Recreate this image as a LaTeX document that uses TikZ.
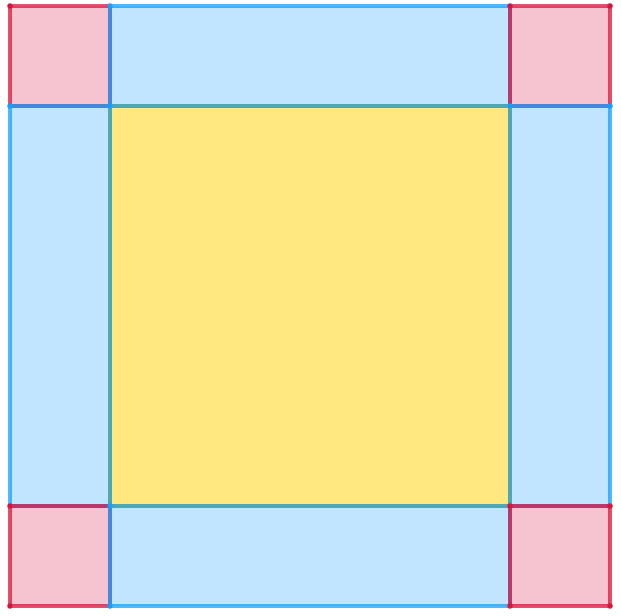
\documentclass[tikz,border=0pt]{standalone}
\begin{document}
\begin{tikzpicture}[
    line width=1.2pt, line join=round
]

% Colours of the three kinds of pieces
\definecolor{cornerfill}{RGB}{245,196,208}
\definecolor{cornerline}{RGB}{220,20,60}
\definecolor{sidefill}{RGB}{194,229,255}
\definecolor{sideline}{RGB}{21,160,255}
\definecolor{midfill}{RGB}{255,232,128}
\definecolor{midline}{RGB}{78,168,180}

% Sizes: small side a, big side b
\def\sa{1}
\def\sb{4}

\useasboundingbox (-0.10,-0.09) rectangle (6.11,6.06);

% Fills: centre b x b, corners a x a, sides a x b
\fill[midfill] (1,1) rectangle (5,5);
\foreach \x/\y in {0/0, 5/0, 0/5, 5/5} {
    \fill[cornerfill] (\x, \y) rectangle +(\sa, \sa);
}
\fill[sidefill] (1, 5) rectangle +(\sb, \sa);
\fill[sidefill] (1, 0) rectangle +(\sb, \sa);
\fill[sidefill] (0, 1) rectangle +(\sa, \sb);
\fill[sidefill] (5, 1) rectangle +(\sa, \sb);

% Outlines, in drawing order (later ones lie on top)
\draw[cornerline, draw opacity=0.75] (0, 5) rectangle +(\sa, \sa);
\draw[sideline, draw opacity=0.75] (1, 5) rectangle +(\sb, \sa);
\draw[cornerline, draw opacity=0.75] (5, 5) rectangle +(\sa, \sa);
\draw[sideline, draw opacity=0.75] (0, 1) rectangle +(\sa, \sb);
\draw[cornerline, draw opacity=0.75] (0, 0) rectangle +(\sa, \sa);
\draw[sideline, draw opacity=0.75] (1, 0) rectangle +(\sb, \sa);
\draw[sideline, draw opacity=0.75] (5, 1) rectangle +(\sa, \sb);
\draw[cornerline, draw opacity=0.75] (5, 0) rectangle +(\sa, \sa);
\draw[midline] (1,1) rectangle (5,5);

% Vertex points
\foreach \p in {(0,0), (0,1), (0,6), (5,6), (6,6), (5,1), (6,1), (5,0), (6,0)} {
    \fill[cornerline] \p circle (0.028);
}
\foreach \p in {(1,6), (0,5), (1,5), (5,5), (6,5), (1,1), (1,0)} {
    \fill[sideline] \p circle (0.028);
}

\end{tikzpicture}
\end{document}
